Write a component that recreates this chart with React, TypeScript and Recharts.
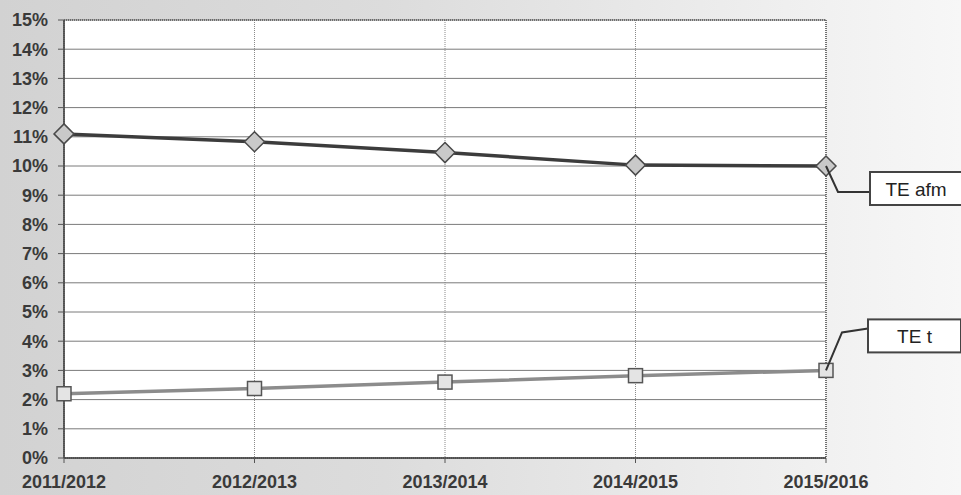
import React from "react"
import { CartesianGrid, Line, LineChart, ReferenceArea, XAxis, YAxis } from "recharts"

const years = ["2011/2012", "2012/2013", "2013/2014", "2014/2015", "2015/2016"]
const teAfm = [11.1, 10.83, 10.46, 10.03, 10.0]
const teT = [2.2, 2.38, 2.6, 2.82, 3.0]
const yTicks = [0, 1, 2, 3, 4, 5, 6, 7, 8, 9, 10, 11, 12, 13, 14, 15]

const data = years.map((year, i) => ({ year, afm: teAfm[i], t: teT[i] }))

const FONT = "'Liberation Sans', Arial, sans-serif"
const TEXT = "#3a3a3a"

const Diamond = (props: any) => {
  const { cx, cy } = props
  if (cx == null || cy == null) return null
  const r = 10
  return (
    <path
      d={`M${cx},${cy - r} L${cx + r},${cy} L${cx},${cy + r} L${cx - r},${cy} Z`}
      fill="#c9c9c9"
      stroke="#4a4a4a"
      strokeWidth={1.5}
    />
  )
}

const Square = (props: any) => {
  const { cx, cy } = props
  if (cx == null || cy == null) return null
  return <rect x={cx - 7} y={cy - 7} width={14} height={14} fill="#e4e4e4" stroke="#555" strokeWidth={1.5} />
}

// callout box joined to the last point of a series
const callout = (text: string, leader: [number, number][], box: [number, number, number, number]) => (props: any) => {
  const { x, y, index } = props
  if (index !== years.length - 1) return null
  const pts = leader.map(([dx, dy]) => `${x + dx},${y + dy}`).join(" L")
  const [bx, by, bw, bh] = box
  return (
    <g>
      <path d={`M${x},${y} L${pts}`} fill="none" stroke="#333" strokeWidth={2} />
      <rect x={x + bx} y={y + by} width={bw} height={bh} fill="#fff" stroke="#444" strokeWidth={2} />
      <text
        x={x + bx + bw / 2}
        y={y + by + bh / 2 + 7}
        textAnchor="middle"
        fontFamily={FONT}
        fontSize={19}
        fill="#222"
      >
        {text}
      </text>
    </g>
  )
}

export default function App() {
  return (
    <div
      style={{
        position: "absolute",
        left: 0,
        top: 0,
        width: 961,
        height: 495,
        background: "linear-gradient(to right, #d2d2d2 0%, #dcdcdc 40%, #ececec 75%, #f7f7f7 100%)",
      }}
    >
      <LineChart width={961} height={495} data={data} margin={{ top: 20, right: 135, bottom: 0, left: 0 }}>
        <CartesianGrid horizontal={false} stroke="#8a8a8a" strokeDasharray="1 1" fill="#fff" />
        <CartesianGrid vertical={false} stroke="#7a7a7a" />
        <ReferenceArea x1={years[0]} x2={years[4]} y1={0} y2={15} fill="none" stroke="#555" strokeDasharray="1 1" strokeWidth={1.5} />
        <XAxis
          dataKey="year"
          height={37}
          axisLine={{ stroke: "#444", strokeWidth: 1.5 }}
          tickLine={{ stroke: "#555" }}
          tickSize={5}
          tickMargin={12}
          tick={{ fontFamily: FONT, fontSize: 18, fontWeight: 700, fill: TEXT }}
          interval={0}
        />
        <YAxis
          width={64}
          domain={[0, 15]}
          ticks={yTicks}
          interval={0}
          tickFormatter={(v) => `${v}%`}
          axisLine={{ stroke: "#444", strokeWidth: 1.5 }}
          tickLine={{ stroke: "#555" }}
          tickSize={6}
          tickMargin={10}
          tick={{ fontFamily: FONT, fontSize: 18, fontWeight: 700, fill: TEXT }}
        />
        <Line
          dataKey="t"
          stroke="#8c8c8c"
          strokeWidth={3.5}
          dot={<Square />}
          activeDot={false}
          isAnimationActive={false}
          label={callout("TE t", [[16, -38], [42, -42]], [42, -51, 93, 33])}
        />
        <Line
          dataKey="afm"
          stroke="#3c3c3c"
          strokeWidth={3.5}
          dot={<Diamond />}
          activeDot={false}
          isAnimationActive={false}
          label={callout("TE afm", [[12, 26], [44, 26]], [44, 6, 92, 33])}
        />
      </LineChart>
    </div>
  )
}
